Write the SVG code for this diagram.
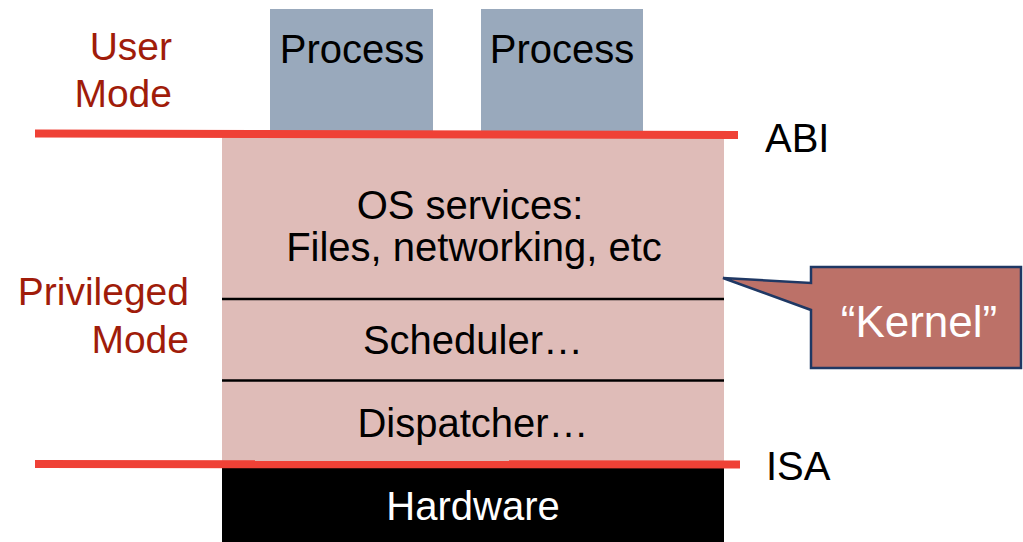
<svg xmlns="http://www.w3.org/2000/svg" width="1023" height="542" viewBox="0 0 1023 542">
<style>
text{font-family:"Liberation Sans",Arial,sans-serif;font-size:40px;fill:#000}
.mode{fill:#A01C0A;text-anchor:end;font-size:39px}
.c{text-anchor:middle}
.proc{fill:#99A9BC}
.layer{fill:#DFBCB8}
.div{stroke:#000;stroke-width:2.5}
.red{stroke:#EF4136;stroke-width:8}
</style>
<rect width="1023" height="542" fill="#fff"/>
<g id="user-mode"><text class="mode" x="172" y="60">User</text><text class="mode" x="172" y="107">Mode</text></g>
<g id="privileged-mode"><text class="mode" x="189" y="305">Privileged</text><text class="mode" x="189" y="353">Mode</text></g>
<g id="process1"><rect class="proc" x="270" y="9" width="163" height="124"/><text class="c" x="352" y="63">Process</text></g>
<g id="process2"><rect class="proc" x="481" y="9" width="162" height="124"/><text class="c" x="562" y="63">Process</text></g>
<g id="kernel">
<rect class="layer" x="222" y="134" width="502" height="332"/>
<line class="div" x1="222" y1="299" x2="724" y2="299"/>
<line class="div" x1="222" y1="380.5" x2="724" y2="380.5"/>
<text class="c" x="470" y="219">OS services:</text>
<text class="c" x="474" y="261">Files, networking, etc</text>
<text class="c" x="473" y="354">Scheduler…</text>
<text class="c" x="473" y="437">Dispatcher…</text>
</g>
<g id="hardware"><rect x="222" y="466" width="502" height="76" fill="#000"/><text class="c" x="473" y="520" style="fill:#fff">Hardware</text></g>
<g id="connectors">
<line class="red" x1="35" y1="133.5" x2="738" y2="135"/>
<line class="red" x1="35" y1="464" x2="740" y2="464.5"/>
</g>
<g id="abi"><text x="765" y="152">ABI</text></g>
<g id="isa"><text x="766" y="480">ISA</text></g>
<g id="kernel-callout">
<path d="M811,267 H1021 V368 H811 V310 L723,278 L811,283 Z" fill="#BC7168" stroke="#1F3864" stroke-width="2.5" stroke-linejoin="miter"/>
<text class="c" x="919" y="337" style="fill:#fff;font-size:44px">“Kernel”</text>
</g>
</svg>
